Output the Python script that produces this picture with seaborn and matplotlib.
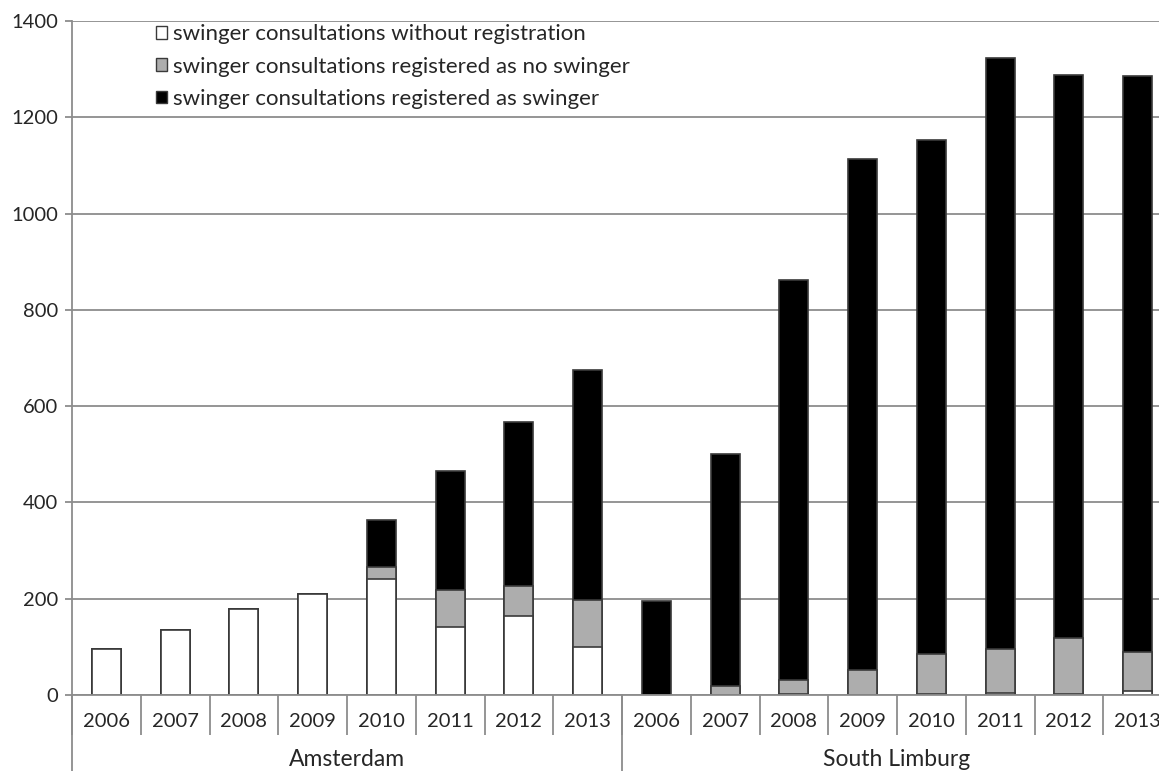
import numpy as np
import pandas as pd
import matplotlib
matplotlib.use("Agg")
import matplotlib.pyplot as plt
from matplotlib.patches import Patch
import seaborn as sns

# data (segment heights, bottom -> top)
years = ["2006", "2007", "2008", "2009", "2010", "2011", "2012", "2013"]
regions = ["Amsterdam", "South Limburg"]
series_labels = ["swinger consultations without registration",
                 "swinger consultations registered as no swinger",
                 "swinger consultations registered as swinger"]

amst_none = [96, 134, 178, 210, 241, 142, 165, 100]
amst_noswing = [0, 0, 0, 0, 25, 76, 62, 97]
amst_swing = [0, 0, 0, 0, 98, 248, 340, 479]

sl_none = [0, 0, 3, 0, 2, 5, 2, 8]
sl_noswing = [0, 18, 29, 52, 84, 91, 116, 81]
sl_swing = [195, 482, 829, 1062, 1066, 1228, 1169, 1196]

colors = ["white", "#adadad", "black"]
edge = "#3a3a3a"
gridc = "#8c8c8c"

# 1. build the table
df = pd.DataFrame({
    "key": [f"{r}-{y}" for r in regions for y in years],
    "year": years * 2,
    "none": amst_none + sl_none,
    "noswing": amst_noswing + sl_noswing,
    "swing": amst_swing + sl_swing,
})
df["lower"] = df["none"] + df["noswing"]
df["total"] = df["lower"] + df["swing"]

# 2. plot
sns.set_style("white")
plt.rcParams["font.family"] = ["Lato", "DejaVu Sans"]
fs = 14.5
fs_big = 16.5

W, H = 1159, 771
fig = plt.figure(figsize=(W / 100, H / 100), dpi=100)
ax = fig.add_axes([72 / W, 76 / H, 1100 / W, 674 / H])

# stacked bars: draw cumulative heights, back to front
for col, fc in [("total", colors[2]), ("lower", colors[1]), ("none", colors[0])]:
    sns.barplot(data=df, x="key", y=col, color=fc, saturation=1, width=0.42,
                edgecolor=edge, linewidth=1.2, errorbar=None, ax=ax)

ax.set_xlim(-0.5, 15.5)
ax.set_ylim(0, 1400)
ax.set_yticks(np.arange(0, 1401, 200))
ax.set_axisbelow(True)
ax.yaxis.grid(True, color=gridc, lw=1.3)
ax.set_xlabel("")
ax.set_ylabel("")

for s in ["top", "right"]:
    ax.spines[s].set_visible(False)
ax.spines["left"].set_color(gridc)
ax.spines["bottom"].set_color(gridc)
ax.spines["left"].set_linewidth(1.3)
ax.spines["bottom"].set_linewidth(1.3)

ax.tick_params(axis="y", which="major", length=5, width=1.3, color=gridc,
               labelsize=fs, pad=5, direction="out", left=True)
ax.set_xticks(range(16))
ax.set_xticklabels(df["year"], fontsize=fs)
ax.tick_params(axis="x", which="major", length=0, pad=13)
ax.set_xticks(np.arange(-0.5, 16, 1), minor=True)
ax.tick_params(axis="x", which="minor", length=29, width=1.3, color=gridc,
               direction="out", bottom=True)

# group separators and labels
trans = ax.get_xaxis_transform()
for xpos in [-0.5, 7.5, 15.5]:
    ax.plot([xpos, xpos], [0, -80 / 674], transform=trans, color=gridc,
            lw=1.3, clip_on=False)
for i, r in enumerate(regions):
    ax.text(3.5 + 8 * i, -65 / 674, r, transform=trans, ha="center",
            va="center", fontsize=fs_big)

handles = [Patch(facecolor=c, edgecolor=edge, linewidth=1) for c in colors]
ax.legend(handles, series_labels, loc="upper left", bbox_to_anchor=(0.0765, 0.995),
          frameon=False, fontsize=16, handlelength=0.5, handleheight=0.5,
          handletextpad=0.25, labelspacing=0.55, borderaxespad=0, borderpad=0)

fig.savefig("out.png", dpi=100)
